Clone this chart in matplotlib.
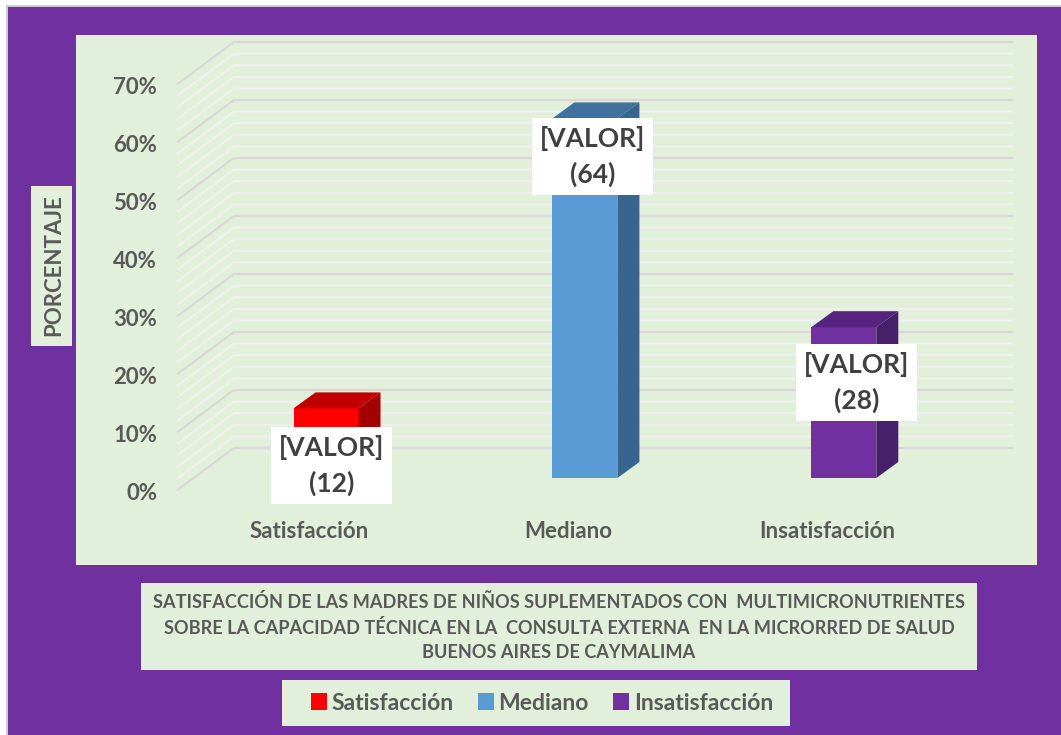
import matplotlib
matplotlib.use("Agg")
import matplotlib.pyplot as plt
from matplotlib.patches import Rectangle, Patch
from matplotlib.transforms import ScaledTranslation

categories = ["Satisfacción", "Mediano", "Insatisfacción"]
values = [12, 62, 26]
counts = [12, 64, 28]
major_ticks = [0, 10, 20, 30, 40, 50, 60, 70]
grid_levels = list(range(0, 72, 2))
front_colors = ["#FF0000", "#5B9BD5", "#7030A0"]
top_colors = ["#C00000", "#41719C", "#562380"]
side_colors = ["#A50000", "#37658F", "#47206B"]
title = ("SATISFACCIÓN DE LAS MADRES DE NIÑOS SUPLEMENTADOS CON  MULTIMICRONUTRIENTES\n"
         "SOBRE LA CAPACIDAD TÉCNICA EN LA  CONSULTA EXTERNA  EN LA MICRORRED DE SALUD\n"
         "BUENOS AIRES DE CAYMALIMA")

W, H = 1061, 735
PANEL = "#E2EFDA"
PURPLE = "#7030A0"
TEXT = "#595959"
plt.rcParams["font.family"] = ["Lato", "DejaVu Sans"]
plt.rcParams["font.weight"] = "bold"

fig = plt.figure(figsize=(W / 100, H / 100), dpi=100, facecolor="white")


def box(x0, y0, x1, y1, color):
    # pixel box, y measured from the top of the image
    fig.add_artist(Rectangle((x0 / W, 1 - y1 / H), (x1 - x0) / W, (y1 - y0) / H,
                             transform=fig.transFigure, fc=color, ec="none", zorder=-5))


box(6, 5, W, H, "#CFCBD2")
box(7.5, 7, W, H, PURPLE)
box(76, 35, 1037, 565, PANEL)
box(31, 186, 72, 346, PANEL)
box(141, 583, 977, 670, PANEL)
box(282, 680, 790, 726, PANEL)

# axes: px per unit set so that categories sit 258.9 px apart, 5.8 px per percent
sx, sy = 258.9, 5.8
x0_px, y0_px = 326.0, 478.0
ax_l, ax_r, ax_t, ax_b = 178, 1012, 36, 500
ax = fig.add_axes([ax_l / W, 1 - ax_b / H, (ax_r - ax_l) / W, (ax_b - ax_t) / H])
ax.set_xlim((ax_l - x0_px) / sx, (ax_r - x0_px) / sx)
ax.set_ylim((y0_px - ax_b) / sy, (y0_px - ax_t) / sy)
ax.patch.set_visible(False)
for s in ax.spines.values():
    s.set_visible(False)

# walls: lines run from the front-left edge to the back wall
xf, xb = ax.get_xlim()[0], (234 - x0_px) / sx
xr = ax.get_xlim()[1]
front_dy, back_dy = -2, 30 / sy
for v in grid_levels:
    major = v in major_ticks
    ax.plot([xf, xb, xr], [v + front_dy, v + back_dy, v + back_dy],
            color="#D9D7D7" if major else "#EFF2EC", lw=1.5, zorder=1, clip_on=False,
            solid_joinstyle="miter")

bar_w = 65 / sx
dx, dy = 22 / sx, 16 / sy
for i, v in enumerate(values):
    l, r = i - bar_w / 2, i + bar_w / 2
    ax.bar(i, v, width=bar_w, color=front_colors[i], zorder=3)
    ax.fill([l, r, r + dx, l + dx], [v, v, v + dy, v + dy], color=top_colors[i], lw=0, zorder=3)
    ax.fill([r, r + dx, r + dx, r], [0, dy, v + dy, v], color=side_colors[i], lw=0, zorder=3)

label_shift = [(5.5, -57), (8, -38), (12.5, -55)]
for i, v in enumerate(values):
    ax.annotate("[VALOR]\n(%d)" % counts[i], xy=(i, v), xytext=label_shift[i],
                textcoords="offset pixels", ha="center", va="center", fontsize=19,
                color="#404040", linespacing=1.5, zorder=5,
                bbox=dict(boxstyle="square,pad=0.3", fc="white", ec="none"))

ax.set_xticks(range(3), categories)
ax.set_yticks([t + front_dy for t in major_ticks], ["%d%%" % t for t in major_ticks])
ax.tick_params(axis="both", length=0, labelcolor=TEXT, labelsize=16)
ax.tick_params(axis="x", pad=15)
ax.tick_params(axis="y", pad=15)
# the category labels sit left of the bars, as in a 3D chart
for lab in ax.get_xticklabels():
    lab.set_transform(lab.get_transform() + ScaledTranslation(-17 / 100, 0, fig.dpi_scale_trans))
for lab in ax.get_yticklabels():
    lab.set_transform(lab.get_transform() + ScaledTranslation(0, -1.5 / 100, fig.dpi_scale_trans))

fig.text(54 / W, 1 - 265 / H, "PORCENTAJE", rotation=90, ha="center", va="center",
         color=TEXT, fontsize=16)
fig.text(559 / W, 1 - 627 / H, title, ha="center", va="center", color=TEXT,
         fontsize=13.1, linespacing=1.55)

handles = [Patch(fc=c, ec="none") for c in front_colors]
fig.legend(handles, categories, loc="center", bbox_to_anchor=(542 / W, 1 - 703 / H), ncol=3,
           frameon=False, fontsize=16.5, handlelength=0.7, handleheight=0.7,
           handletextpad=0.2, columnspacing=1.05, labelcolor=TEXT)

fig.savefig("out.png", dpi=100)
